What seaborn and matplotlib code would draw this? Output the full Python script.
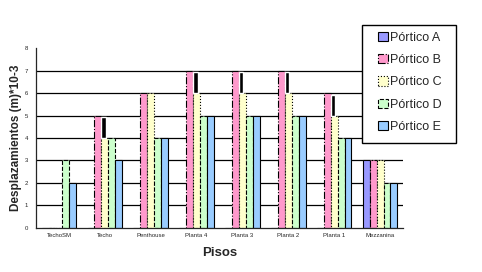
import pandas as pd
import matplotlib
matplotlib.use("Agg")
import matplotlib.pyplot as plt
import matplotlib.patches as mpatches
import seaborn as sns

# Data
pisos = ["TechoSM", "Techo", "Penthouse", "Planta 4", "Planta 3", "Planta 2", "Planta 1", "Mezzanina"]
portico_a = [0, 0, 0, 0, 0, 0, 0, 3]
portico_b = [0, 5, 6, 7, 7, 7, 6, 3]
portico_c = [0, 4, 6, 6, 6, 6, 5, 3]
portico_d = [3, 4, 4, 5, 5, 5, 4, 2]
portico_e = [2, 3, 4, 5, 5, 5, 4, 2]

series = ["Pórtico A", "Pórtico B", "Pórtico C", "Pórtico D", "Pórtico E"]
colores = ["#9999FF", "#FF99CC", "#FFFFCC", "#CCFFCC", "#99CCFF"]
estilos = ["solid", "dashdot", "dotted", "dashed", "solid"]

rows = []
for name, vals in zip(series, [portico_a, portico_b, portico_c, portico_d, portico_e]):
    for p, v in zip(pisos, vals):
        rows.append({"Pisos": p, "Portico": name, "Valor": v})
df = pd.DataFrame(rows)

sns.set_style("white")
plt.rcParams["font.family"] = ["Liberation Sans", "DejaVu Sans"]

fig = plt.figure(figsize=(4.82, 2.72), dpi=100)
ax = fig.add_axes([0.0747, 0.163, 0.7614, 0.6596])

sns.barplot(data=df, x="Pisos", y="Valor", hue="Portico", order=pisos, hue_order=series,
            palette=colores, width=0.75, saturation=1, edgecolor="black", linewidth=0.8,
            legend=False, ax=ax)

for cont, ls in zip(ax.containers, estilos):
    for bar in cont:
        bar.set_linestyle(ls)

# dark shading where Pórtico B rises above Pórtico C
for bar, b, c in zip(ax.containers[2], portico_b, portico_c):
    if b > c:
        w = bar.get_width()
        ax.bar(bar.get_x(), b - c - 0.07, width=w * 0.65, bottom=c,
               align="edge", color="black", zorder=3)

ax.set_ylim(0, 8)
ax.set_xlim(-0.5, len(pisos) - 0.5)
ax.set_yticks(range(0, 9))
for y in range(1, 8):
    ax.axhline(y, color="black", linewidth=0.9, zorder=0)

ax.spines["top"].set_visible(False)
ax.spines["right"].set_visible(False)
ax.spines["left"].set_linewidth(0.9)
ax.spines["bottom"].set_linewidth(0.9)
ax.tick_params(axis="both", labelsize=4.3, length=2, width=0.8, direction="out")
ax.tick_params(axis="x", length=0)
ax.set_xticks([i + 0.5 for i in range(len(pisos))], minor=True)
ax.tick_params(axis="x", which="minor", length=3, width=0.8, direction="out")

ax.set_xlabel("Pisos", fontsize=9.5, fontweight="bold")
ax.set_ylabel("Desplazamientos (m)*10-3", fontsize=8.5, fontweight="bold")
ax.xaxis.set_label_coords(0.5, -0.108)
ax.yaxis.set_label_coords(-0.038, 0.5)

handles = [mpatches.Patch(facecolor=c, edgecolor="black", linestyle=ls, linewidth=0.8)
           for c, ls in zip(colores, estilos)]
leg = fig.legend(handles, series, loc="center", bbox_to_anchor=(0.850, 0.697),
                 fontsize=9, frameon=False, labelspacing=0.82,
                 handlelength=0.75, handleheight=0.75, handletextpad=0.15)

# legend box
fig.patches.append(mpatches.Rectangle((362 / 482, 1 - 143 / 272), 94 / 482, 118 / 272,
                                      transform=fig.transFigure, facecolor="white",
                                      edgecolor="black", linewidth=1, zorder=5))
leg.set_zorder(6)

fig.savefig("out.png", dpi=100)
